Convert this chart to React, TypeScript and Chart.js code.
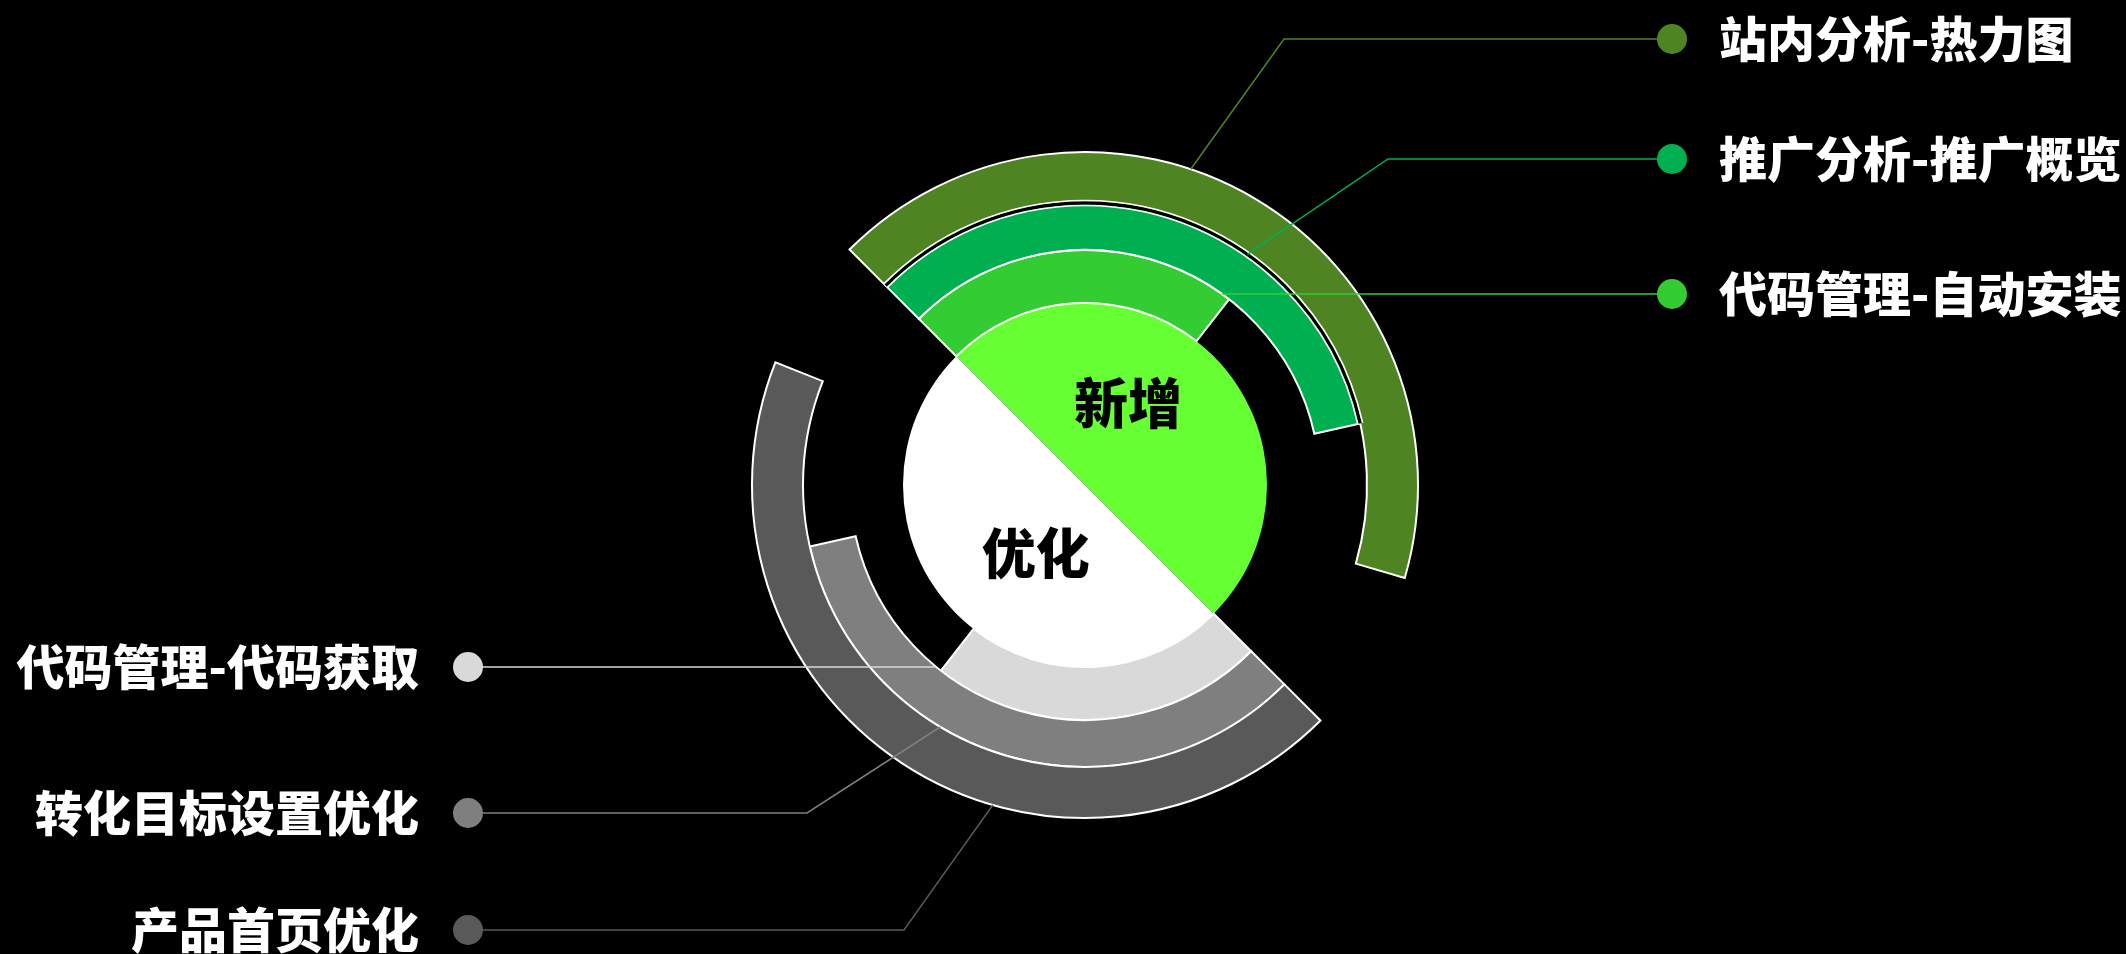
import React, { useEffect, useRef } from "react";
import { Chart, registerables } from "chart.js";

Chart.register(...registerables);

// ---------- data ----------
const groups = ["新增", "优化"];
const groupShare = [50, 50];

// rings listed from outermost to innermost; values are % of a half circle
const newLabels = ["站内分析-热力图", "推广分析-推广概览", "代码管理-自动安装"];
const newValues = [84, 68, 46];
const optLabels = ["产品首页优化", "转化目标设置优化", "代码管理-代码获取"];
const optValues = [87, 68, 46];
const HALF = 100;

// ---------- style ----------
const newColors = ["#4E8522", "#00B050", "#33CC33"];
const optColors = ["#595959", "#7F7F7F", "#D9D9D9"];
const pieColors = ["#66FF33", "#FFFFFF"];
const START_ANGLE = -45;
const ringWeights = [51, 47, 53];
const pieWeight = 182;
const OUTER_RADIUS = 333;

// label layout
const rightDotX = 1672;
const leftDotX = 468;
const textGapRight = 47;
const textGapLeft = 49;
const dotR = 15;
const newLabelY = [39, 159, 294];
const optLabelY = [930, 813, 667];
const newElbowX = [1284, 1388, null];
const optElbowX = [904, 807, null];
const newAnchorFrac = [0.42, 0.655, 0.96];
const optAnchorFrac = [0.39, 0.62, 1.0];
const centerOffsets = [
  [0.236, -0.45],
  [-0.27, 0.375],
];
const LABEL_FONT = '900 48px "Noto Sans CJK SC", "Noto Sans", sans-serif';
const CENTER_FONT = '900 54px "Noto Sans CJK SC", "Noto Sans", sans-serif';

const TRANSPARENT = "rgba(0,0,0,0)";

const labelPlugin = {
  id: "ringLabels",
  afterDatasetsDraw(chart: any) {
    const ctx: CanvasRenderingContext2D = chart.ctx;
    ctx.save();

    // double line between the two outer green rings
    const a2 = chart.getDatasetMeta(1).data[0].getProps(
      ["x", "y", "startAngle", "endAngle", "outerRadius"],
      true
    );
    ctx.lineCap = "butt";
    ctx.beginPath();
    ctx.arc(a2.x, a2.y, a2.outerRadius, a2.startAngle, a2.endAngle);
    ctx.lineWidth = 3.5;
    ctx.strokeStyle = "#000000";
    ctx.stroke();
    ctx.lineWidth = 1.6;
    ctx.strokeStyle = "#ffffff";
    [-2.5, 2.5].forEach((d) => {
      ctx.beginPath();
      ctx.arc(a2.x, a2.y, a2.outerRadius + d, a2.startAngle, a2.endAngle);
      ctx.stroke();
    });

    // center labels
    const pieMeta = chart.getDatasetMeta(3);
    ctx.font = CENTER_FONT;
    ctx.fillStyle = "#000000";
    ctx.textAlign = "center";
    ctx.textBaseline = "middle";
    pieMeta.data.forEach((arc: any, j: number) => {
      const p = arc.getProps(["x", "y", "outerRadius"], true);
      ctx.fillText(
        groups[j],
        p.x + centerOffsets[j][0] * p.outerRadius,
        p.y + centerOffsets[j][1] * p.outerRadius
      );
    });

    // leader lines, dots and texts
    const drawSide = (
      idx: number,
      elemIndex: number,
      text: string,
      color: string,
      labelY: number,
      elbowX: number | null,
      frac: number,
      side: "left" | "right"
    ) => {
      const arc = chart.getDatasetMeta(idx).data[elemIndex].getProps(
        ["x", "y", "startAngle", "endAngle", "outerRadius"],
        true
      );
      const dotX = side === "right" ? rightDotX : leftDotX;
      let ax: number;
      let ay: number;
      if (elbowX === null) {
        const dy = labelY - arc.y;
        const dx = Math.sqrt(Math.max(arc.outerRadius * arc.outerRadius - dy * dy, 0));
        ax = side === "right" ? arc.x + dx : arc.x - dx;
        ay = labelY;
      } else {
        const a = arc.startAngle + frac * (arc.endAngle - arc.startAngle);
        ax = arc.x + arc.outerRadius * Math.cos(a);
        ay = arc.y + arc.outerRadius * Math.sin(a);
      }
      ctx.beginPath();
      ctx.moveTo(ax, ay);
      if (elbowX !== null) ctx.lineTo(elbowX, labelY);
      ctx.lineTo(dotX, labelY);
      ctx.lineWidth = 1.5;
      ctx.strokeStyle = color;
      ctx.stroke();

      ctx.beginPath();
      ctx.arc(dotX, labelY, dotR, 0, Math.PI * 2);
      ctx.fillStyle = color;
      ctx.fill();

      ctx.font = LABEL_FONT;
      ctx.fillStyle = "#ffffff";
      ctx.textBaseline = "middle";
      if (side === "right") {
        ctx.textAlign = "left";
        ctx.fillText(text, dotX + textGapRight, labelY);
      } else {
        ctx.textAlign = "right";
        ctx.fillText(text, dotX - textGapLeft, labelY);
      }
    };

    for (let i = 0; i < 3; i++) {
      drawSide(i, 0, newLabels[i], newColors[i], newLabelY[i], newElbowX[i], newAnchorFrac[i], "right");
      drawSide(i, 2, optLabels[i], optColors[i], optLabelY[i], optElbowX[i], optAnchorFrac[i], "left");
    }

    ctx.restore();
  },
};

export default function App() {
  const ref = useRef<HTMLCanvasElement>(null);

  useEffect(() => {
    const canvas = ref.current;
    if (!canvas) return;
    const datasets: any[] = [];
    for (let i = 0; i < 3; i++) {
      datasets.push({
        label: newLabels[i] + " / " + optLabels[i],
        data: [newValues[i], HALF - newValues[i], optValues[i], HALF - optValues[i]],
        backgroundColor: [newColors[i], TRANSPARENT, optColors[i], TRANSPARENT],
        borderColor: ["#ffffff", TRANSPARENT, "#ffffff", TRANSPARENT],
        borderWidth: [2, 0, 2, 0],
        borderJoinStyle: "miter",
        weight: ringWeights[i],
        rotation: START_ANGLE,
      });
    }
    datasets.push({
      label: "分类",
      data: groupShare,
      backgroundColor: pieColors,
      borderWidth: 0,
      weight: pieWeight,
      rotation: START_ANGLE,
    });

    const chart = new Chart(canvas, {
      type: "doughnut",
      data: { labels: ["新增", "", "优化", ""], datasets },
      options: {
        responsive: false,
        maintainAspectRatio: false,
        animation: false,
        events: [],
        cutout: 0,
        radius: OUTER_RADIUS,
        rotation: START_ANGLE,
        layout: { padding: { left: 44, top: 16, right: 0, bottom: 0 } },
        plugins: {
          legend: { display: false },
          tooltip: { enabled: false },
        },
      } as any,
      plugins: [labelPlugin],
    });
    return () => chart.destroy();
  }, []);

  return (
    <div
      style={{
        position: "fixed",
        left: 0,
        top: 0,
        width: 2126,
        height: 954,
        background: "#000000",
      }}
    >
      <canvas ref={ref} width={2126} height={954} style={{ display: "block" }} />
    </div>
  );
}
